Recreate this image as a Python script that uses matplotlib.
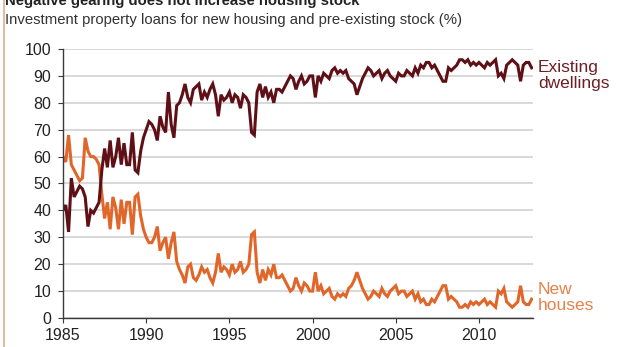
import matplotlib
matplotlib.use('Agg')
import matplotlib.pyplot as plt
import numpy as np
from matplotlib.lines import Line2D

plt.rcParams['font.family'] = ['Liberation Sans', 'DejaVu Sans']

# share of investment property loans (%), one value every two months from Jan 1985
new_houses = [
    60, 58, 68, 57, 55, 53,   # 1985
    51, 52, 67, 62, 60, 60,   # 1986
    59, 57, 46, 37, 43, 33,   # 1987
    45, 41, 33, 44, 35, 43,   # 1988
    43, 31, 45, 46, 38, 33,   # 1989
    30, 28, 28, 30, 34, 25,   # 1990
    28, 30, 22, 28, 32, 21,   # 1991
    18, 16, 13, 19, 20, 15,   # 1992
    14, 16, 19, 17, 18, 15,   # 1993
    13, 17, 24, 17, 19, 18,   # 1994
    16, 20, 17, 18, 21, 17,   # 1995
    18, 20, 31, 32, 17, 13,   # 1996
    18, 14, 18, 16, 20, 15,   # 1997
    15, 16, 14, 12, 10, 11,   # 1998
    15, 12, 10, 13, 12, 10,   # 1999
    10, 17, 10, 12, 9, 10,    # 2000
    11, 8, 7, 9, 8, 9,        # 2001
    8, 11, 12, 14, 17, 14,    # 2002
    11, 9, 7, 8, 10, 9,       # 2003
    8, 11, 9, 8, 10, 11,      # 2004
    12, 9, 10, 10, 8, 9,      # 2005
    10, 7, 9, 6, 7, 5,        # 2006
    5, 7, 6, 8, 10, 12,       # 2007
    12, 7, 8, 7, 6, 4,        # 2008
    4, 5, 4, 6, 5, 6,         # 2009
    5, 6, 7, 5, 6, 5,         # 2010
    4, 10, 9, 11, 6, 5,       # 2011
    4, 5, 6, 12, 6, 5,        # 2012
    5, 7,                     # 2013
]

existing = [
    40, 42, 32, 52, 45, 47,   # 1985
    49, 48, 45, 34, 40, 39,   # 1986
    41, 43, 55, 63, 56, 66,   # 1987
    56, 60, 67, 57, 65, 57,   # 1988
    57, 69, 55, 54, 62, 67,   # 1989
    70, 73, 72, 70, 66, 75,   # 1990
    71, 69, 84, 72, 67, 79,   # 1991
    80, 83, 87, 82, 80, 85,   # 1992
    86, 87, 81, 84, 82, 85,   # 1993
    87, 83, 75, 83, 81, 82,   # 1994
    84, 80, 83, 82, 78, 83,   # 1995
    82, 80, 69, 68, 84, 87,   # 1996
    82, 86, 82, 84, 80, 85,   # 1997
    85, 84, 86, 88, 90, 89,   # 1998
    85, 88, 90, 87, 88, 90,   # 1999
    90, 82, 90, 88, 91, 90,   # 2000
    89, 92, 93, 91, 92, 91,   # 2001
    92, 89, 88, 87, 83, 86,   # 2002
    89, 91, 93, 92, 90, 91,   # 2003
    92, 89, 91, 92, 90, 89,   # 2004
    88, 91, 90, 90, 92, 91,   # 2005
    90, 93, 91, 94, 93, 95,   # 2006
    95, 93, 94, 92, 90, 88,   # 2007
    88, 93, 92, 93, 94, 96,   # 2008
    96, 95, 96, 94, 95, 94,   # 2009
    95, 94, 93, 95, 94, 95,   # 2010
    96, 90, 91, 89, 94, 95,   # 2011
    96, 95, 94, 88, 94, 95,   # 2012
    95, 93,                   # 2013
]

start_year = 1985
year_ticks = [1985, 1990, 1995, 2000, 2005, 2010]
y_ticks = list(range(0, 101, 10))

dates = start_year + np.arange(len(new_houses)) / 6.0

fig = plt.figure(figsize=(6.19, 3.47), dpi=100)
ax = fig.add_axes([0.1018, 0.0836, 0.7593, 0.7752])

ax.plot(dates, new_houses, color='#e0662a', lw=2.2, solid_joinstyle='miter')
ax.plot(dates, existing, color='#5e1016', lw=2.2, solid_joinstyle='miter')

ax.set_xlim(1985, 2013.25)
ax.set_ylim(0, 100)
ax.set_xticks(year_ticks)
ax.set_yticks(y_ticks)
ax.yaxis.grid(True, color='#d6d6d6', lw=1.3)
ax.set_axisbelow(True)
for s in ['top', 'right']:
    ax.spines[s].set_visible(False)
for s in ['left', 'bottom']:
    ax.spines[s].set_color('#3a3a3a')
    ax.spines[s].set_linewidth(1.0)
ax.tick_params(axis='both', colors='#3a3a3a', labelcolor='#222222',
               labelsize=11.5, length=3.5, width=0.8)
ax.tick_params(axis='y', pad=5)
ax.tick_params(axis='x', pad=4)

ax.text(2013.55, 90, 'Existing\ndwellings', color='#6e1f26', fontsize=12.5,
        va='center', ha='left', linespacing=1.1, clip_on=False)
ax.text(2013.55, 7.5, 'New\nhouses', color='#e4824a', fontsize=12.5,
        va='center', ha='left', linespacing=1.1, clip_on=False)

fig.text(5 / 619, 1 - 5 / 347, 'Negative gearing does not increase housing stock',
         fontsize=10.7, fontweight='bold', va='baseline', ha='left', color='#222222')
fig.text(5 / 619, 1 - 24 / 347,
         'Investment property loans for new housing and pre-existing stock (%)',
         fontsize=10.7, va='baseline', ha='left', color='#333333')

fig.add_artist(Line2D([3.5 / 619, 3.5 / 619], [0, 1], transform=fig.transFigure,
                      color='#dcc29a', lw=1.5))

fig.savefig('out.png', dpi=100)
